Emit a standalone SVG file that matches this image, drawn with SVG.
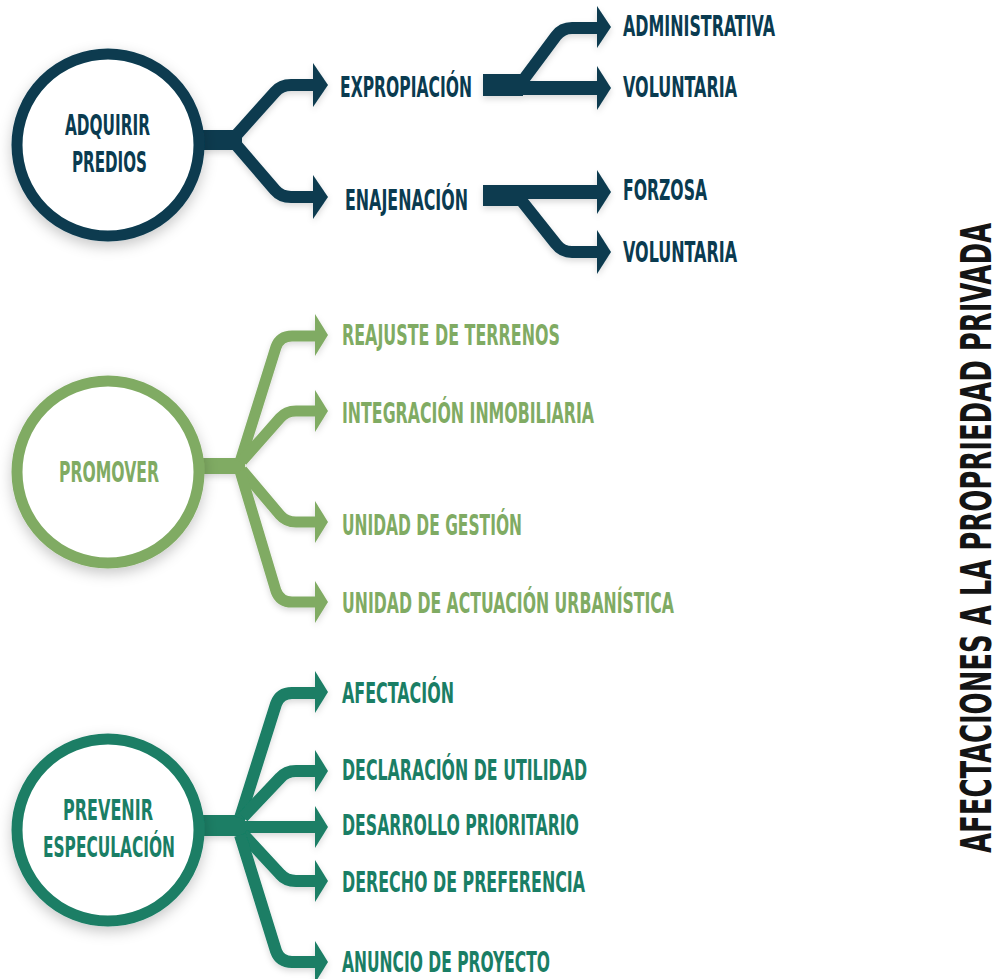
<svg xmlns="http://www.w3.org/2000/svg" width="999" height="979" viewBox="0 0 999 979">
<defs>
<style>
text{font-family:"Liberation Sans Narrow","DejaVu Sans Condensed","Liberation Sans",sans-serif;font-weight:bold;font-size:29px}
.navy{fill:#0a3b50}
.lg{fill:#80ab63}
.tl{fill:#1a7e65}
.ring{fill:#ffffff;stroke-width:11}
.ln{fill:none;stroke-linejoin:round}
.vt{fill:#141414;font-size:43px}
</style>
<filter id="sh" x="-30%" y="-30%" width="160%" height="160%">
<feDropShadow dx="0" dy="5" stdDeviation="7" flood-color="#000" flood-opacity="0.22"/>
</filter>
<filter id="sh2" x="-20%" y="-20%" width="140%" height="140%">
<feDropShadow dx="0" dy="3" stdDeviation="3" flood-color="#000" flood-opacity="0.15"/>
</filter>
</defs>
<rect width="999" height="979" fill="#ffffff"/>

<g id="connectors" filter="url(#sh2)">
<g id="c-adquirir" fill="#0a3b50">
<rect x="196" y="130" width="46" height="20"/>
<path class="ln" stroke="#0a3b50" stroke-width="12" d="M232 140 L275 92 Q281 85 291 85 L316 85"/>
<path class="ln" stroke="#0a3b50" stroke-width="12" d="M232 140 L275 190 Q281 197 291 197 L316 197"/>
<polygon points="313,63 328,85 313,107"/>
<polygon points="313,175 328,197 313,219"/>
<rect x="483" y="74" width="40" height="22"/>
<path class="ln" stroke="#0a3b50" stroke-width="14" d="M518 88 L600 88"/>
<path class="ln" stroke="#0a3b50" stroke-width="12" d="M521 83 L556 36 Q562 28 572 28 L600 28"/>
<polygon points="597,66 611,88 597,110"/>
<polygon points="597,6 611,27 597,48"/>
<rect x="483" y="185" width="40" height="21"/>
<path class="ln" stroke="#0a3b50" stroke-width="14" d="M518 192 L600 192"/>
<path class="ln" stroke="#0a3b50" stroke-width="12" d="M521 200 L556 244 Q562 252 572 252 L600 252"/>
<polygon points="597,170 611,192 597,214"/>
<polygon points="597,230 611,252 597,274"/>
</g>
<g id="c-promover" fill="#80ab63">
<rect x="196" y="458" width="49" height="16"/>
<path class="ln" stroke="#80ab63" stroke-width="11" d="M240 462 L276 347 Q280 336 292 336 L317 336"/>
<path class="ln" stroke="#80ab63" stroke-width="11" d="M242 461 L280 418 Q286 411 296 411 L317 411"/>
<path class="ln" stroke="#80ab63" stroke-width="11" d="M242 470 L280 515 Q286 522 296 522 L317 522"/>
<path class="ln" stroke="#80ab63" stroke-width="11" d="M240 471 L276 591 Q280 602 292 602 L317 602"/>
<polygon points="315,314 328,335 315,356"/>
<polygon points="315,390 328,411 315,432"/>
<polygon points="315,501 328,522 315,543"/>
<polygon points="315,581 328,602 315,623"/>
</g>
<g id="c-prevenir" fill="#1a7e65">
<rect x="196" y="815" width="49" height="21"/>
<path class="ln" stroke="#1a7e65" stroke-width="12" d="M240 818 L276 704 Q280 693 292 693 L317 693"/>
<path class="ln" stroke="#1a7e65" stroke-width="12" d="M243 817 L280 778 Q286 771 296 771 L317 771"/>
<path class="ln" stroke="#1a7e65" stroke-width="12" d="M240 827 L317 827"/>
<path class="ln" stroke="#1a7e65" stroke-width="12" d="M243 834 L280 874 Q286 881 296 881 L317 881"/>
<path class="ln" stroke="#1a7e65" stroke-width="12" d="M240 835 L276 951 Q280 962 292 962 L317 962"/>
<polygon points="315,671 328,692 315,713"/>
<polygon points="315,750 328,771 315,792"/>
<polygon points="315,806 328,827 315,848"/>
<polygon points="315,860 328,881 315,902"/>
<polygon points="315,941 328,962 315,983"/>
</g>
</g>

<g id="n-adquirir">
<circle class="ring" cx="108" cy="145" r="91" stroke="#0a3b50" filter="url(#sh)"/>
<text class="navy" x="65" y="135" textLength="85" lengthAdjust="spacingAndGlyphs">ADQUIRIR</text>
<text class="navy" x="72" y="172" textLength="75" lengthAdjust="spacingAndGlyphs">PREDIOS</text>
</g>
<g id="n-expropiacion"><text class="navy" x="340" y="97" textLength="132" lengthAdjust="spacingAndGlyphs">EXPROPIACIÓN</text></g>
<g id="n-enajenacion"><text class="navy" x="345" y="210" textLength="123" lengthAdjust="spacingAndGlyphs">ENAJENACIÓN</text></g>
<g id="n-administrativa"><text class="navy" x="623" y="36" textLength="152" lengthAdjust="spacingAndGlyphs">ADMINISTRATIVA</text></g>
<g id="n-voluntaria1"><text class="navy" x="623" y="97" textLength="114" lengthAdjust="spacingAndGlyphs">VOLUNTARIA</text></g>
<g id="n-forzosa"><text class="navy" x="623" y="200" textLength="84" lengthAdjust="spacingAndGlyphs">FORZOSA</text></g>
<g id="n-voluntaria2"><text class="navy" x="623" y="262" textLength="114" lengthAdjust="spacingAndGlyphs">VOLUNTARIA</text></g>

<g id="n-promover">
<circle class="ring" cx="108" cy="472" r="91" stroke="#80ab63" filter="url(#sh)"/>
<text class="lg" x="59" y="482" textLength="100" lengthAdjust="spacingAndGlyphs">PROMOVER</text>
</g>
<g id="n-reajuste"><text class="lg" x="342" y="345" textLength="218" lengthAdjust="spacingAndGlyphs">REAJUSTE DE TERRENOS</text></g>
<g id="n-integracion"><text class="lg" x="342" y="423" textLength="252" lengthAdjust="spacingAndGlyphs">INTEGRACIÓN INMOBILIARIA</text></g>
<g id="n-gestion"><text class="lg" x="342" y="535" textLength="180" lengthAdjust="spacingAndGlyphs">UNIDAD DE GESTIÓN</text></g>
<g id="n-actuacion"><text class="lg" x="342" y="613" textLength="332" lengthAdjust="spacingAndGlyphs">UNIDAD DE ACTUACIÓN URBANÍSTICA</text></g>

<g id="n-prevenir">
<circle class="ring" cx="108" cy="830" r="91" stroke="#1a7e65" filter="url(#sh)"/>
<text class="tl" x="63" y="820" textLength="90" lengthAdjust="spacingAndGlyphs">PREVENIR</text>
<text class="tl" x="43" y="857" textLength="132" lengthAdjust="spacingAndGlyphs">ESPECULACIÓN</text>
</g>
<g id="n-afectacion"><text class="tl" x="342" y="703" textLength="112" lengthAdjust="spacingAndGlyphs">AFECTACIÓN</text></g>
<g id="n-declaracion"><text class="tl" x="342" y="780" textLength="245" lengthAdjust="spacingAndGlyphs">DECLARACIÓN DE UTILIDAD</text></g>
<g id="n-desarrollo"><text class="tl" x="342" y="835" textLength="237" lengthAdjust="spacingAndGlyphs">DESARROLLO PRIORITARIO</text></g>
<g id="n-derecho"><text class="tl" x="342" y="892" textLength="243" lengthAdjust="spacingAndGlyphs">DERECHO DE PREFERENCIA</text></g>
<g id="n-anuncio"><text class="tl" x="342" y="972" textLength="208" lengthAdjust="spacingAndGlyphs">ANUNCIO DE PROYECTO</text></g>

<g id="title">
<text class="vt" transform="translate(991,853) rotate(-90)" x="0" y="0" textLength="630" lengthAdjust="spacingAndGlyphs">AFECTACIONES A LA PROPRIEDAD PRIVADA</text>
</g>
</svg>
